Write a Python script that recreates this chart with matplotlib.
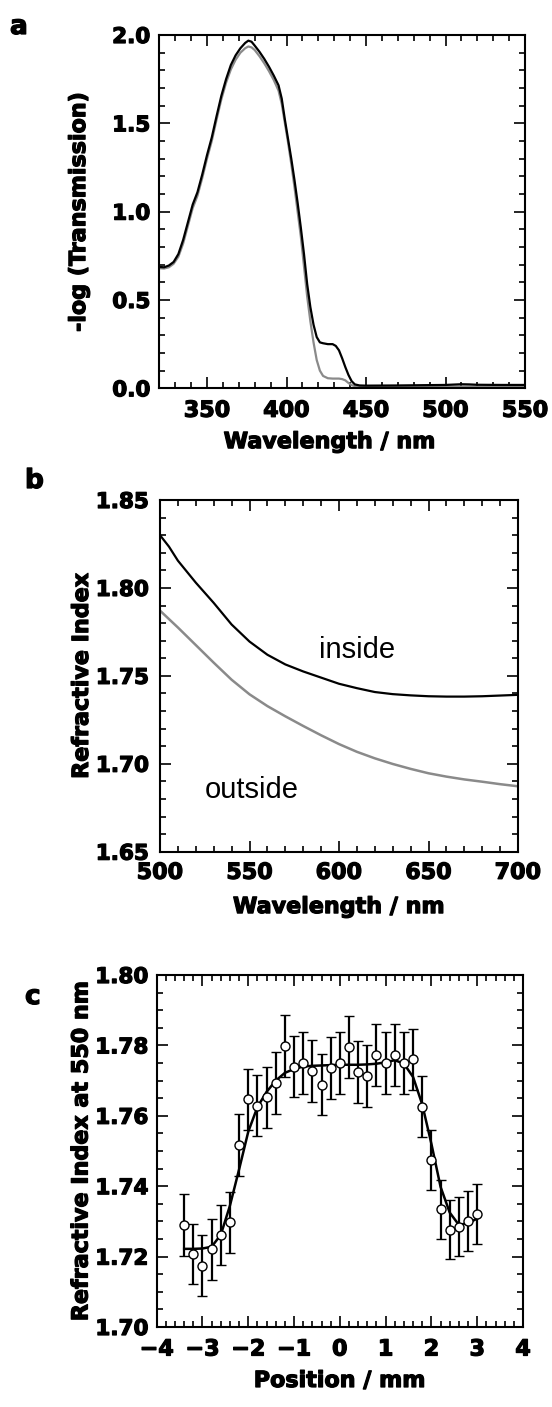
import matplotlib
matplotlib.use("Agg")
import matplotlib.pyplot as plt
import matplotlib.patheffects as pe
from matplotlib.ticker import MultipleLocator, FormatStrFormatter

# (a) absorbance spectra
wl_a = [320, 323, 326, 329, 332, 335, 338, 341, 344, 347, 350, 353, 356, 359,
        362, 365, 368, 371, 374, 376, 378, 380, 383, 386, 389, 392, 395, 397,
        399, 401, 403, 405, 407, 409, 411, 413, 415, 417, 419, 421, 423, 426,
        429, 431, 433, 435, 437, 439, 441, 443, 446, 450, 470, 490, 500, 505,
        510, 515, 520, 535, 550]
absorb_dark = [0.687, 0.685, 0.695, 0.715, 0.76, 0.84, 0.94, 1.04, 1.11, 1.21,
               1.32, 1.42, 1.54, 1.655, 1.75, 1.83, 1.885, 1.925, 1.955,
               1.968, 1.962, 1.94, 1.905, 1.865, 1.82, 1.77, 1.715, 1.64,
               1.52, 1.41, 1.30, 1.18, 1.05, 0.91, 0.76, 0.59, 0.46, 0.36,
               0.29, 0.26, 0.255, 0.25, 0.25, 0.24, 0.215, 0.17, 0.12, 0.075,
               0.04, 0.022, 0.016, 0.015, 0.016, 0.018, 0.019, 0.021, 0.023,
               0.022, 0.020, 0.019, 0.019]
absorb_grey = [0.68, 0.678, 0.685, 0.705, 0.745, 0.82, 0.92, 1.02, 1.09, 1.19,
               1.30, 1.40, 1.52, 1.635, 1.73, 1.805, 1.86, 1.90, 1.925, 1.935,
               1.93, 1.915, 1.88, 1.84, 1.795, 1.745, 1.685, 1.61, 1.50, 1.39,
               1.27, 1.14, 1.00, 0.86, 0.69, 0.52, 0.38, 0.26, 0.16, 0.10,
               0.07, 0.057, 0.055, 0.055, 0.055, 0.052, 0.045, 0.03, 0.018,
               0.012, 0.010, 0.010, 0.010, 0.010, 0.010, 0.010, 0.010, 0.010,
               0.010, 0.010, 0.010]

# (b) dispersion curves
wl_b = [500, 505, 510, 520, 530, 540, 550, 560, 570, 580, 590, 600, 610, 620,
        630, 640, 650, 660, 670, 680, 690, 700]
n_inside = [1.830, 1.8235, 1.8155, 1.8030, 1.7915, 1.7792, 1.7695, 1.7620,
            1.7565, 1.7525, 1.7490, 1.7455, 1.7430, 1.7408, 1.7396, 1.7389,
            1.7384, 1.7382, 1.7382, 1.7384, 1.7388, 1.7392]
n_outside = [1.7871, 1.7823, 1.7775, 1.7675, 1.7575, 1.7478, 1.7395, 1.7328,
             1.7270, 1.7215, 1.7162, 1.7112, 1.7068, 1.7031, 1.6999, 1.6971,
             1.6946, 1.6927, 1.6911, 1.6898, 1.6884, 1.6872]

# (c) index profile across the sample
pos = [-3.4, -3.2, -3.0, -2.8, -2.6, -2.4, -2.2, -2.0, -1.8, -1.6, -1.4,
       -1.2, -1.0, -0.8, -0.6, -0.4, -0.2, 0.0, 0.2, 0.4, 0.6, 0.8, 1.0,
       1.2, 1.4, 1.6, 1.8, 2.0, 2.2, 2.4, 2.6, 2.8, 3.0]
n550 = [1.7290, 1.7207, 1.7174, 1.7221, 1.7261, 1.7297, 1.7517, 1.7647,
        1.7629, 1.7653, 1.7692, 1.7798, 1.7740, 1.7749, 1.7728, 1.7688,
        1.7735, 1.7749, 1.7795, 1.7725, 1.7713, 1.7773, 1.7749, 1.7773,
        1.7749, 1.7760, 1.7626, 1.7474, 1.7334, 1.7276, 1.7285, 1.7302,
        1.7321]
n550_err = [0.0087, 0.0086, 0.0086, 0.0087, 0.0086, 0.0087, 0.0087, 0.0086,
            0.0087, 0.0087, 0.0088, 0.0089, 0.0088, 0.0088, 0.0088, 0.0087,
            0.0088, 0.0088, 0.0089, 0.0088, 0.0088, 0.0088, 0.0088, 0.0088,
            0.0088, 0.0088, 0.0087, 0.0085, 0.0083, 0.0084, 0.0084, 0.0085,
            0.0085]
n550_fit = [1.7222, 1.7222, 1.7223, 1.7228, 1.7262, 1.7345, 1.7448, 1.7555,
            1.7625, 1.7668, 1.7700, 1.7722, 1.7733, 1.7740, 1.7742, 1.7743,
            1.7744, 1.7745, 1.7745, 1.7745, 1.7746, 1.7748, 1.7752, 1.7758,
            1.7748, 1.7710, 1.7632, 1.7520, 1.7398, 1.7325, 1.7290, 1.7295,
            1.7308]

plt.rcParams['font.family'] = 'DejaVu Sans'
plt.rcParams['font.weight'] = 'bold'
plt.rcParams['axes.linewidth'] = 1.5

GREY = '#8a8a8a'
W, H = 552, 1407
HEAVY = [pe.withStroke(linewidth=0.9, foreground='black')]

fig = plt.figure(figsize=(W / 100, H / 100), dpi=100)


def make_axes(left, top, right, bottom):
    return fig.add_axes([left / W, 1 - bottom / H, (right - left) / W,
                         (bottom - top) / H])


def style(ax, xpad, ypad):
    ax.tick_params(which='both', direction='in', top=True, right=True,
                   width=1.2)
    ax.tick_params(which='major', length=8)
    ax.tick_params(which='minor', length=4)
    ax.tick_params(axis='x', labelsize=16, pad=xpad)
    ax.tick_params(axis='y', labelsize=15.5, pad=ypad)
    for lab in ax.get_xticklabels() + ax.get_yticklabels():
        lab.set_fontweight('bold')
        lab.set_path_effects(HEAVY)
    ax.xaxis.label.set_path_effects(HEAVY)
    ax.yaxis.label.set_path_effects(HEAVY)


# ---- a ----
ax1 = make_axes(159.3, 35, 525, 388.3)
ax1.plot(wl_a, absorb_grey, color=GREY, lw=1.6)
ax1.plot(wl_a, absorb_dark, color='black', lw=1.6)
ax1.set_xlim(320, 550)
ax1.set_ylim(0, 2.0)
ax1.xaxis.set_major_locator(MultipleLocator(50))
ax1.xaxis.set_minor_locator(MultipleLocator(10))
ax1.yaxis.set_major_locator(MultipleLocator(0.5))
ax1.yaxis.set_minor_locator(MultipleLocator(0.1))
ax1.yaxis.set_major_formatter(FormatStrFormatter('%.1f'))
ax1.set_xlabel('Wavelength / nm', fontsize=16, fontweight='bold')
ax1.set_ylabel('-log (Transmission)', fontsize=16, fontweight='bold')
ax1.xaxis.set_label_coords(0.466, -0.124)
ax1.yaxis.set_label_coords(-0.192, 0.5)
style(ax1, 9, 6.5)

# ---- b ----
ax2 = make_axes(160, 500, 518, 851.7)
ax2.plot(wl_b, n_outside, color=GREY, lw=1.8)
ax2.plot(wl_b, n_inside, color='black', lw=1.6)
ax2.set_xlim(500, 700)
ax2.set_ylim(1.65, 1.85)
ax2.xaxis.set_major_locator(MultipleLocator(50))
ax2.xaxis.set_minor_locator(MultipleLocator(10))
ax2.yaxis.set_major_locator(MultipleLocator(0.05))
ax2.yaxis.set_minor_locator(MultipleLocator(0.01))
ax2.yaxis.set_major_formatter(FormatStrFormatter('%.2f'))
ax2.set_xlabel('Wavelength / nm', fontsize=16, fontweight='bold')
ax2.set_ylabel('Refractive Index', fontsize=16, fontweight='bold')
ax2.xaxis.set_label_coords(0.5, -0.129)
ax2.yaxis.set_label_coords(-0.19, 0.5)
style(ax2, 8, 8)
ax2.text(589, 1.760, 'inside', family='Liberation Sans', fontweight='normal',
         fontsize=21, va='baseline', ha='left')
ax2.text(525, 1.6807, 'outside', family='Liberation Sans', fontweight='normal',
         fontsize=21, va='baseline', ha='left')

# ---- c ----
ax3 = make_axes(156.7, 975, 523, 1327)
ax3.plot(pos, n550_fit, color='black', lw=1.8, zorder=2)
ax3.errorbar(pos, n550, yerr=n550_err, fmt='o', color='black',
             mfc='white', mec='black', mew=1.0, ms=6.5, elinewidth=1.6,
             capsize=3.5, capthick=1.6, zorder=3)
ax3.set_xlim(-4, 4)
ax3.set_ylim(1.70, 1.80)
ax3.xaxis.set_major_locator(MultipleLocator(1))
ax3.xaxis.set_minor_locator(MultipleLocator(0.2))
ax3.yaxis.set_major_locator(MultipleLocator(0.02))
ax3.yaxis.set_minor_locator(MultipleLocator(0.005))
ax3.yaxis.set_major_formatter(FormatStrFormatter('%.2f'))
ax3.set_xlabel('Position / mm', fontsize=16, fontweight='bold')
ax3.set_ylabel('Refractive Index at 550 nm', fontsize=16, fontweight='bold')
ax3.xaxis.set_label_coords(0.5, -0.125)
ax3.yaxis.set_label_coords(-0.178, 0.5)
style(ax3, 9, 6)

# panel letters
for letter, x, y in [('a', 10, 34), ('b', 25, 488), ('c', 25, 1004)]:
    fig.text(x / W, 1 - y / H, letter, fontsize=19, fontweight='bold',
             ha='left', va='baseline', path_effects=HEAVY)

fig.savefig('out.png', dpi=100)
